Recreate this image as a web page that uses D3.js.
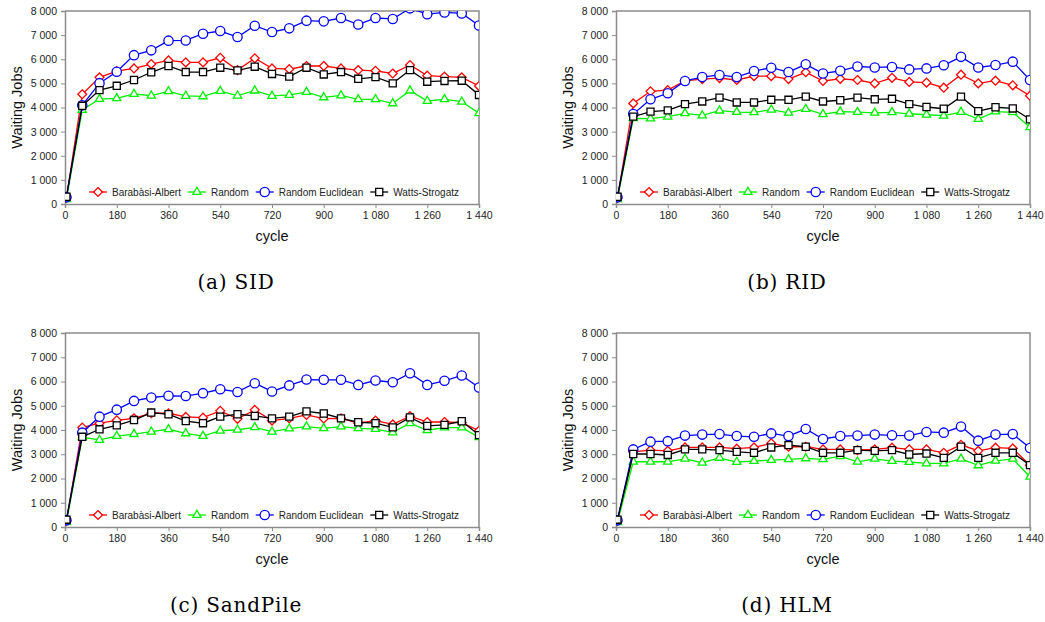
<!DOCTYPE html>
<html>
<head>
<meta charset="utf-8">
<script src="https://cdn.jsdelivr.net/npm/d3@7"></script>
<style>
  html, body { margin: 0; padding: 0; background: #fff; }
  svg { display: block; }
</style>
</head>
<body>
<svg id="chart" width="1045" height="622"></svg>
<script>
// Simulation cycles at which waiting jobs were sampled
const cycles = [5, 60, 120, 180, 240, 300, 360, 420, 480, 540, 600, 660, 720,
                780, 840, 900, 960, 1020, 1080, 1140, 1200, 1260, 1320, 1380, 1440];

const seriesNames = ["Barabàsi-Albert", "Random", "Random Euclidean", "Watts-Strogatz"];

const xTicks = [0, 180, 360, 540, 720, 900, 1080, 1260, 1440];
const yTicks = [0, 1000, 2000, 3000, 4000, 5000, 6000, 7000, 8000];

const panelTitles = ["(a) SID", "(b) RID", "(c) SandPile", "(d) HLM"];

// (a) SID
const sidBA = [260, 4550, 5250, 5510, 5620, 5800, 5950, 5870, 5870, 6060, 5550, 6040, 5620,
               5590, 5720, 5720, 5620, 5550, 5520, 5410, 5760, 5320, 5280, 5250, 4890];
const sidRandom = [200, 3900, 4350, 4380, 4560, 4490, 4670, 4480, 4460, 4680, 4490, 4700, 4480,
                   4520, 4640, 4420, 4500, 4340, 4340, 4170, 4700, 4270, 4340, 4240, 3760];
const sidEuclid = [280, 4090, 5010, 5480, 6170, 6370, 6770, 6780, 7060, 7170, 6920, 7390, 7130,
                   7280, 7600, 7570, 7710, 7440, 7710, 7670, 8110, 7870, 7940, 7900, 7400];
const sidWatts = [300, 4070, 4720, 4900, 5140, 5460, 5720, 5470, 5470, 5650, 5540, 5690, 5390,
                  5280, 5650, 5370, 5470, 5190, 5260, 5000, 5550, 5070, 5100, 5110, 4520];

// (b) RID
const ridBA = [250, 4170, 4670, 4720, 5100, 5180, 5220, 5140, 5300, 5300, 5180, 5460, 5100,
               5190, 5140, 5000, 5230, 5060, 5030, 4820, 5360, 5000, 5110, 4920, 4490];
const ridRandom = [200, 3550, 3540, 3620, 3760, 3670, 3870, 3810, 3800, 3910, 3780, 3940, 3720,
                   3830, 3810, 3780, 3800, 3740, 3700, 3660, 3810, 3520, 3830, 3800, 3180];
const ridEuclid = [280, 3730, 4340, 4590, 5100, 5260, 5350, 5260, 5510, 5650, 5470, 5790, 5410,
                   5520, 5700, 5660, 5680, 5580, 5620, 5750, 6100, 5660, 5760, 5900, 5140];
const ridWatts = [300, 3620, 3830, 3880, 4140, 4250, 4410, 4210, 4210, 4320, 4320, 4450, 4250,
                  4300, 4410, 4340, 4360, 4140, 4020, 3950, 4450, 3850, 4010, 3960, 3510];

// (c) SandPile
const sandBA = [250, 4100, 4280, 4400, 4480, 4690, 4690, 4540, 4510, 4790, 4460, 4830, 4390,
                4480, 4620, 4470, 4480, 4280, 4390, 4230, 4570, 4330, 4330, 4300, 3970];
const sandRandom = [200, 3700, 3590, 3750, 3830, 3930, 4030, 3860, 3750, 3970, 4010, 4110, 3930,
                    4060, 4140, 4070, 4140, 4070, 4040, 3900, 4280, 3990, 4100, 4100, 3700];
const sandEuclid = [280, 3890, 4550, 4840, 5200, 5340, 5410, 5400, 5520, 5680, 5570, 5930, 5590,
                    5840, 6080, 6070, 6070, 5860, 6040, 5970, 6340, 5860, 6030, 6250, 5750];
const sandWatts = [300, 3720, 4030, 4190, 4410, 4720, 4650, 4370, 4280, 4550, 4650, 4580, 4480,
                   4550, 4770, 4680, 4480, 4320, 4280, 4110, 4520, 4170, 4210, 4360, 3790];

// (d) HLM
const hlmBA = [250, 3100, 3170, 3140, 3280, 3280, 3280, 3230, 3280, 3450, 3310, 3310, 3200,
               3200, 3170, 3200, 3270, 3200, 3200, 3060, 3390, 3140, 3270, 3240, 2550];
const hlmRandom = [200, 2690, 2690, 2690, 2810, 2650, 2850, 2680, 2720, 2760, 2790, 2830, 2790,
                   2920, 2690, 2810, 2720, 2680, 2620, 2620, 2810, 2540, 2730, 2810, 2070];
const hlmEuclid = [280, 3200, 3520, 3540, 3770, 3810, 3830, 3750, 3720, 3860, 3750, 4040, 3630,
                   3750, 3770, 3810, 3780, 3770, 3920, 3890, 4140, 3560, 3810, 3830, 3260];
const hlmWatts = [300, 3010, 3010, 2970, 3200, 3200, 3170, 3100, 3060, 3280, 3380, 3310, 3060,
                  3060, 3170, 3140, 3170, 2990, 3030, 2850, 3310, 2850, 3060, 3060, 2550];

const panelData = [
  [sidBA, sidRandom, sidEuclid, sidWatts],
  [ridBA, ridRandom, ridEuclid, ridWatts],
  [sandBA, sandRandom, sandEuclid, sandWatts],
  [hlmBA, hlmRandom, hlmEuclid, hlmWatts]
];

// Appearance of each series: line colour and marker shape
const seriesColors = ["#ff0000", "#00ee00", "#0000ff", "#000000"];
const seriesSymbols = [
  d3.symbol().type(d3.symbolDiamond2).size(50),
  d3.symbol().type(d3.symbolTriangle2).size(48),
  d3.symbol().type(d3.symbolCircle).size(68),
  d3.symbol().type(d3.symbolSquare2).size(64)
];

// Plot rectangles of the four panels
const frames = [
  { left: 65,  right: 479,  top: 11,  bottom: 204 },
  { left: 616, right: 1030, top: 11,  bottom: 204 },
  { left: 65,  right: 479,  top: 333, bottom: 527 },
  { left: 616, right: 1030, top: 333, bottom: 527 }
];

const svg = d3.select("#chart");
const fmt = v => d3.format(",")(v).replace(/,/g, " ");
const axisGray = "#8c8c8c";
const sansFont = "'Liberation Sans', Arial, sans-serif";

frames.forEach((f, p) => {
  const g = svg.append("g");
  const x = d3.scaleLinear().domain([0, 1440]).range([f.left, f.right]);
  const y = d3.scaleLinear().domain([0, 8000]).range([f.bottom, f.top]);

  // Y axis
  const yAxis = d3.axisLeft(y).tickValues(yTicks).tickFormat(fmt).tickSize(4).tickPadding(4);
  const ya = g.append("g").attr("transform", `translate(${f.left},0)`).call(yAxis);
  // X axis
  const xAxis = d3.axisBottom(x).tickValues(xTicks).tickFormat(fmt).tickSize(4).tickPadding(4);
  const xa = g.append("g").attr("transform", `translate(0,${f.bottom})`).call(xAxis);

  [ya, xa].forEach(a => {
    a.select(".domain").attr("stroke", axisGray).attr("stroke-width", 1.5);
    a.selectAll(".tick line").attr("stroke", axisGray).attr("stroke-width", 1);
    a.selectAll(".tick text").attr("fill", "#222").style("font-family", sansFont).style("font-size", "10.5px");
  });

  // Frame on top and right
  g.append("path")
    .attr("d", `M${f.left},${f.top}H${f.right}V${f.bottom}`)
    .attr("fill", "none").attr("stroke", axisGray).attr("stroke-width", 1.5);

  // Clip for series
  const clipId = "clip" + p;
  svg.append("clipPath").attr("id", clipId)
    .append("rect").attr("x", f.left).attr("y", f.top)
    .attr("width", f.right - f.left).attr("height", f.bottom - f.top + 8);

  const plot = g.append("g").attr("clip-path", `url(#${clipId})`);
  const line = d3.line().x((d, i) => x(cycles[i])).y(d => y(d));

  panelData[p].forEach((vals, s) => {
    const sg = plot.append("g");
    sg.append("path").datum(vals)
      .attr("d", line).attr("fill", "none")
      .attr("stroke", seriesColors[s]).attr("stroke-width", 1.3);
    sg.selectAll("path.m").data(vals).join("path")
      .attr("class", "m")
      .attr("d", seriesSymbols[s])
      .attr("transform", (d, i) => `translate(${x(cycles[i])},${y(d)})`)
      .attr("fill", "#fff").attr("stroke", seriesColors[s]).attr("stroke-width", 1.3);
  });

  // Legend along the bottom of the plot
  const ly = f.bottom - 12;
  let lx = f.left + 24;
  seriesNames.forEach((name, s) => {
    const lg = g.append("g");
    lg.append("line").attr("x1", lx).attr("x2", lx + 18).attr("y1", ly).attr("y2", ly)
      .attr("stroke", seriesColors[s]).attr("stroke-width", 1.3);
    lg.append("path").attr("d", seriesSymbols[s])
      .attr("transform", `translate(${lx + 9},${ly})`)
      .attr("fill", "#fff").attr("stroke", seriesColors[s]).attr("stroke-width", 1.3);
    const t = lg.append("text").attr("x", lx + 23).attr("y", ly + 3.6)
      .attr("fill", "#222").style("font-family", sansFont).style("font-size", "10px")
      .text(name);
    lx += 23 + t.node().getComputedTextLength() + 7;
  });

  // Axis titles
  g.append("text")
    .attr("transform", `translate(${f.left - 43},${(f.top + f.bottom) / 2}) rotate(-90)`)
    .attr("text-anchor", "middle").attr("fill", "#111")
    .style("font-family", sansFont).style("font-size", "14.5px")
    .text("Waiting Jobs");
  g.append("text")
    .attr("x", (f.left + f.right) / 2).attr("y", f.bottom + 37)
    .attr("text-anchor", "middle").attr("fill", "#111")
    .style("font-family", sansFont).style("font-size", "14.5px")
    .text("cycle");

  // Sub-figure caption
  g.append("text")
    .attr("x", (f.left + f.right) / 2 - 36).attr("y", f.bottom + 85)
    .attr("text-anchor", "middle").attr("fill", "#000")
    .style("font-family", "'DejaVu Serif', 'Liberation Serif', serif").style("font-size", "20px")
    .style("letter-spacing", "0.8px")
    .text(panelTitles[p]);
});
</script>
</body>
</html>
